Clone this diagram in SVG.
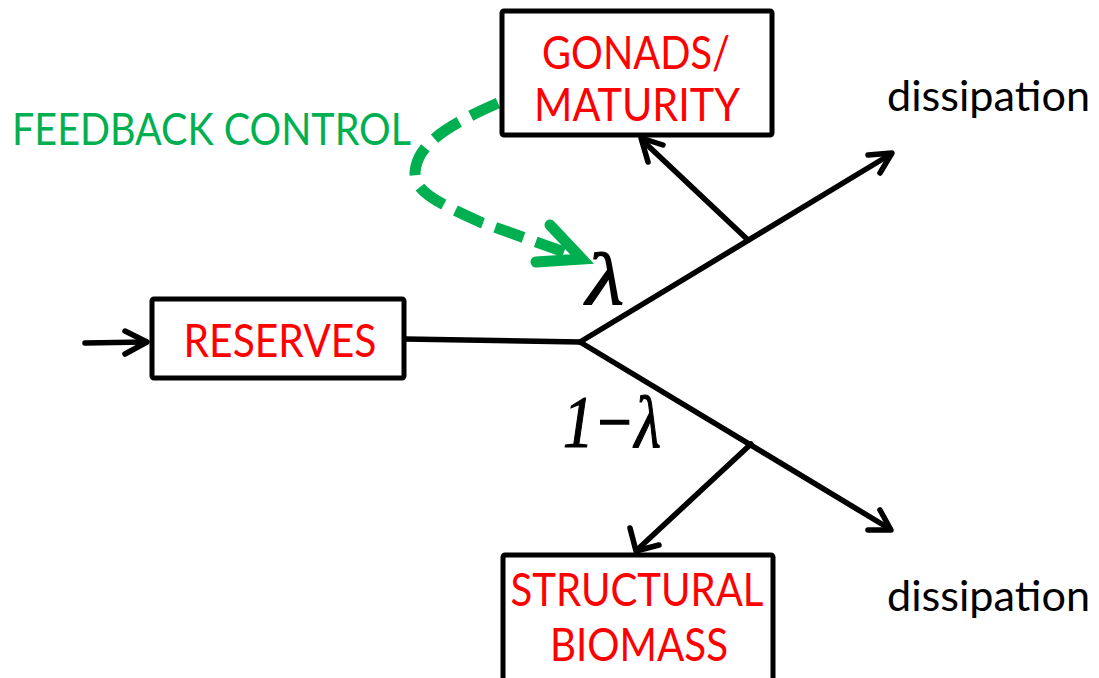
<svg xmlns="http://www.w3.org/2000/svg" width="1099" height="678" viewBox="0 0 1099 678">
  <defs>
    <style>
      .box { fill: #ffffff; stroke: #000000; stroke-width: 5; stroke-linejoin: round; }
      .lbl { font-family: Lato, "Open Sans", "Liberation Sans", sans-serif; font-size: 46px; fill: #ff0000; text-anchor: middle; }
      .note { font-family: Lato, "Open Sans", "Liberation Sans", sans-serif; font-size: 43px; fill: #000000; }
      .fb { font-family: Lato, "Open Sans", "Liberation Sans", sans-serif; font-size: 44px; fill: #00b050; }
      .greek { font-family: "Liberation Serif", "DejaVu Serif", serif; font-style: italic; font-size: 74px; fill: #000000; stroke: #000000; stroke-width: 1.2; }
      .flow { fill: none; stroke: #000000; stroke-width: 5.5; stroke-linecap: round; stroke-linejoin: round; }
      .ctrl { fill: none; stroke: #00b050; stroke-width: 11; stroke-linecap: butt; stroke-linejoin: round; }
      .ctrl-head { fill: none; stroke: #00b050; stroke-width: 11; stroke-linecap: round; stroke-linejoin: miter; }
    </style>
  </defs>
  <rect width="1099" height="678" fill="#ffffff"/>

  <!-- flow connectors -->
  <g id="connectors">
    <!-- input into reserves -->
    <line class="flow" x1="85" y1="343" x2="146" y2="342"/>
    <polyline class="flow" points="125,331 147,342 125,354"/>
    <!-- reserves to split point -->
    <line class="flow" x1="405" y1="339" x2="580" y2="342"/>
    <!-- upper branch -->
    <line class="flow" x1="580" y1="342" x2="891" y2="154"/>
    <polyline class="flow" points="868,155 892,153 880,173"/>
    <!-- lower branch -->
    <line class="flow" x1="580" y1="342" x2="890" y2="529"/>
    <polyline class="flow" points="868,530 891,530 880,510"/>
    <!-- to gonads / maturity -->
    <line class="flow" x1="748" y1="240" x2="642" y2="140"/>
    <polyline class="flow" points="663,145 641,138 648,162"/>
    <!-- to structural biomass -->
    <line class="flow" x1="751" y1="444" x2="638" y2="549"/>
    <polyline class="flow" points="630,528 636,551 659,545"/>
    <!-- feedback control (dashed) -->
    <path class="ctrl" stroke-dasharray="30 13" d="M498,103 C455,122 422,140 416,166 C410,190 432,200 480,222 L570,254"/>
    <polyline class="ctrl-head" points="550,225 582,259 536,262"/>
  </g>

  <g id="feedback-label">
    <text class="fb" x="12" y="145" textLength="399" lengthAdjust="spacingAndGlyphs">FEEDBACK CONTROL</text>
  </g>

  <g id="gonads">
    <rect class="box" x="502" y="11" width="270" height="124" rx="2"/>
    <text class="lbl" x="636" y="69" textLength="188" lengthAdjust="spacingAndGlyphs">GONADS/</text>
    <text class="lbl" x="637" y="121" textLength="206" lengthAdjust="spacingAndGlyphs">MATURITY</text>
  </g>

  <g id="reserves">
    <rect class="box" x="152" y="299" width="252" height="79" rx="2"/>
    <text class="lbl" x="280" y="357" textLength="193" lengthAdjust="spacingAndGlyphs">RESERVES</text>
  </g>

  <g id="structural">
    <rect class="box" x="503" y="555" width="270" height="130" rx="2"/>
    <text class="lbl" x="637" y="606" textLength="253" lengthAdjust="spacingAndGlyphs">STRUCTURAL</text>
    <text class="lbl" x="639" y="661" textLength="178" lengthAdjust="spacingAndGlyphs">BIOMASS</text>
  </g>

  <g id="dissipation-upper">
    <text class="note" x="887" y="111" textLength="203" lengthAdjust="spacingAndGlyphs">dissipation</text>
  </g>
  <g id="dissipation-lower">
    <text class="note" x="887" y="611" textLength="203" lengthAdjust="spacingAndGlyphs">dissipation</text>
  </g>

  <g id="fraction-labels">
    <text class="greek" x="586" y="304" textLength="38" lengthAdjust="spacingAndGlyphs">λ</text>
    <text class="greek" x="563" y="447" textLength="98" lengthAdjust="spacingAndGlyphs">1−λ</text>
  </g>
</svg>
